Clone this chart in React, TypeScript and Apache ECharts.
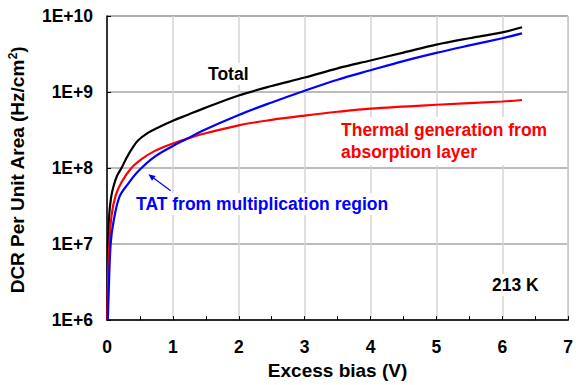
import React, { useEffect, useRef } from "react";
import * as echarts from "echarts";

const xTicks = [0, 1, 2, 3, 4, 5, 6, 7];
const yTickLabels = ["1E+6", "1E+7", "1E+8", "1E+9", "1E+10"];

const totalData: [number, number][] = [
  [0.004, 1e6], [0.008, 3e6], [0.015, 1e7], [0.03, 2.2e7], [0.06, 4e7],
  [0.1, 5.8e7], [0.15, 7.8e7], [0.22, 1e8], [0.3, 1.38e8], [0.38, 1.8e8],
  [0.47, 2.3e8], [0.62, 2.9e8], [0.77, 3.4e8], [1, 4.2e8], [1.22, 5e8],
  [1.45, 6e8], [2, 9e8], [2.5, 1.2e9], [3, 1.55e9], [3.5, 2.05e9],
  [4, 2.6e9], [4.5, 3.3e9], [5, 4.2e9], [5.5, 5.1e9], [6, 6.1e9], [6.3, 7.1e9],
];

const thermalData: [number, number][] = [
  [0.006, 1e6], [0.01, 2.2e6], [0.02, 5e6], [0.035, 1e7], [0.07, 2.4e7],
  [0.13, 4.3e7], [0.22, 6.5e7], [0.37, 1e8], [0.52, 1.3e8], [0.72, 1.67e8],
  [1, 2.1e8], [1.22, 2.44e8], [1.45, 2.8e8], [2, 3.65e8], [2.5, 4.3e8],
  [3, 4.9e8], [3.5, 5.5e8], [4, 6.05e8], [5, 6.8e8], [6, 7.5e8], [6.3, 7.85e8],
];

const tatData: [number, number][] = [
  [0.012, 1e6], [0.025, 2.2e6], [0.055, 1e7], [0.1, 2e7], [0.19, 4.2e7],
  [0.32, 6.2e7], [0.47, 9e7], [0.72, 1.4e8], [1, 1.95e8], [1.22, 2.44e8],
  [1.45, 3.1e8], [2, 5e8], [2.5, 7.3e8], [3, 1.04e9], [3.5, 1.45e9],
  [4, 1.93e9], [4.5, 2.55e9], [5, 3.27e9], [5.5, 4.1e9], [6, 5.1e9],
  [6.3, 5.9e9],
];

const FONT = "'Liberation Sans', Arial, sans-serif";

export default function App() {
  const ref = useRef<HTMLDivElement>(null);
  useEffect(() => {
    document.body.style.margin = "0";
    if (!ref.current) return;
    const chart = echarts.init(ref.current, null, { renderer: "svg" });
    const labelStyle = { fontFamily: FONT, fontWeight: "bold" as const, fontSize: 17.5 };
    const lineSeries = (name: string, data: [number, number][], color: string, z: number) => ({
      name,
      type: "line",
      data,
      showSymbol: false,
      smooth: 0.35,
      lineStyle: { color, width: 2.2 },
      z,
    });
    chart.setOption({
      animation: false,
      backgroundColor: "#fff",
      grid: {
        left: 107,
        top: 16,
        right: 3,
        bottom: 62,
        show: true,
        borderColor: "#808080",
        borderWidth: 1,
      },
      xAxis: {
        type: "value",
        min: xTicks[0],
        max: xTicks[xTicks.length - 1],
        interval: 1,
        axisLine: { lineStyle: { color: "#000", width: 1.5 } },
        axisTick: { inside: true, length: 4, lineStyle: { color: "#000" } },
        minorTick: { show: true, splitNumber: 2, length: 4, lineStyle: { color: "#000" } },
        splitLine: { show: true, lineStyle: { color: "#d4d4d4", width: 1.5 } },
        axisLabel: { ...labelStyle, color: "#000", margin: 18, showMaxLabel: true },
        name: "Excess bias (V)",
        nameLocation: "middle",
        nameGap: 38,
        nameTextStyle: { fontFamily: FONT, fontWeight: "bold", fontSize: 19, color: "#000" },
      },
      yAxis: {
        type: "log",
        logBase: 10,
        min: 1e6,
        max: 1e10,
        axisLine: { show: true, lineStyle: { color: "#000", width: 1.5 } },
        axisTick: { show: true, inside: true, length: 4, lineStyle: { color: "#000" } },
        splitLine: { show: true, lineStyle: { color: "#a6a6a6", width: 1.5 } },
        axisLabel: {
          ...labelStyle,
          color: "#000",
          margin: 14,
          formatter: (v: number) => {
            const idx = Math.round(Math.log10(v)) - 6;
            return yTickLabels[idx] ?? "";
          },
        },
      },
      series: [
        lineSeries("Total", totalData, "#000000", 3),
        lineSeries("Thermal", thermalData, "#ff0000", 4),
        lineSeries("TAT", tatData, "#0000ff", 5),
      ],
      graphic: [
        {
          type: "text",
          x: 17.5,
          y: 170,
          rotation: Math.PI / 2,
          style: {
            text: "DCR Per Unit Area (Hz/cm{sup|2})",
            fontFamily: FONT,
            fontWeight: "bold",
            fontSize: 19,
            fill: "#000",
            align: "center",
            verticalAlign: "middle",
            rich: {
              sup: { fontFamily: FONT, fontWeight: "bold", fontSize: 12, verticalAlign: "top", lineHeight: 22 },
            },
          },
        },
        {
          type: "text",
          x: 206,
          y: 74,
          z: 10,
          style: {
            text: "Total",
            ...labelStyle,
            fill: "#000",
            align: "left",
            verticalAlign: "middle",
            backgroundColor: "#fff",
            padding: [2, 2, 2, 2],
          },
        },
        {
          type: "text",
          x: 339,
          y: 141,
          z: 10,
          style: {
            text: "Thermal generation from\nabsorption layer",
            ...labelStyle,
            fill: "#ff0000",
            align: "left",
            verticalAlign: "middle",
            lineHeight: 22,
            backgroundColor: "#fff",
            padding: [2, 2, 2, 2],
          },
        },
        {
          type: "text",
          x: 134,
          y: 204,
          z: 10,
          style: {
            text: "TAT from multiplication region",
            ...labelStyle,
            fill: "#0000ff",
            align: "left",
            verticalAlign: "middle",
            backgroundColor: "#fff",
            padding: [2, 2, 2, 2],
          },
        },
        {
          type: "text",
          x: 490,
          y: 285,
          z: 10,
          style: {
            text: "213 K",
            ...labelStyle,
            fill: "#000",
            align: "left",
            verticalAlign: "middle",
            backgroundColor: "#fff",
            padding: [2, 2, 2, 2],
          },
        },
        {
          type: "line",
          z: 10,
          shape: { x1: 170.7, y1: 190.7, x2: 152.5, y2: 177.3 },
          style: { stroke: "#0000ff", lineWidth: 1.2 },
        },
        {
          type: "polygon",
          z: 10,
          shape: { points: [[148.3, 174.3], [155.6, 175.9], [152.0, 180.7]] },
          style: { fill: "#0000ff" },
        },
      ],
    });
    return () => chart.dispose();
  }, []);
  return <div ref={ref} style={{ width: 576, height: 385 }} />;
}
